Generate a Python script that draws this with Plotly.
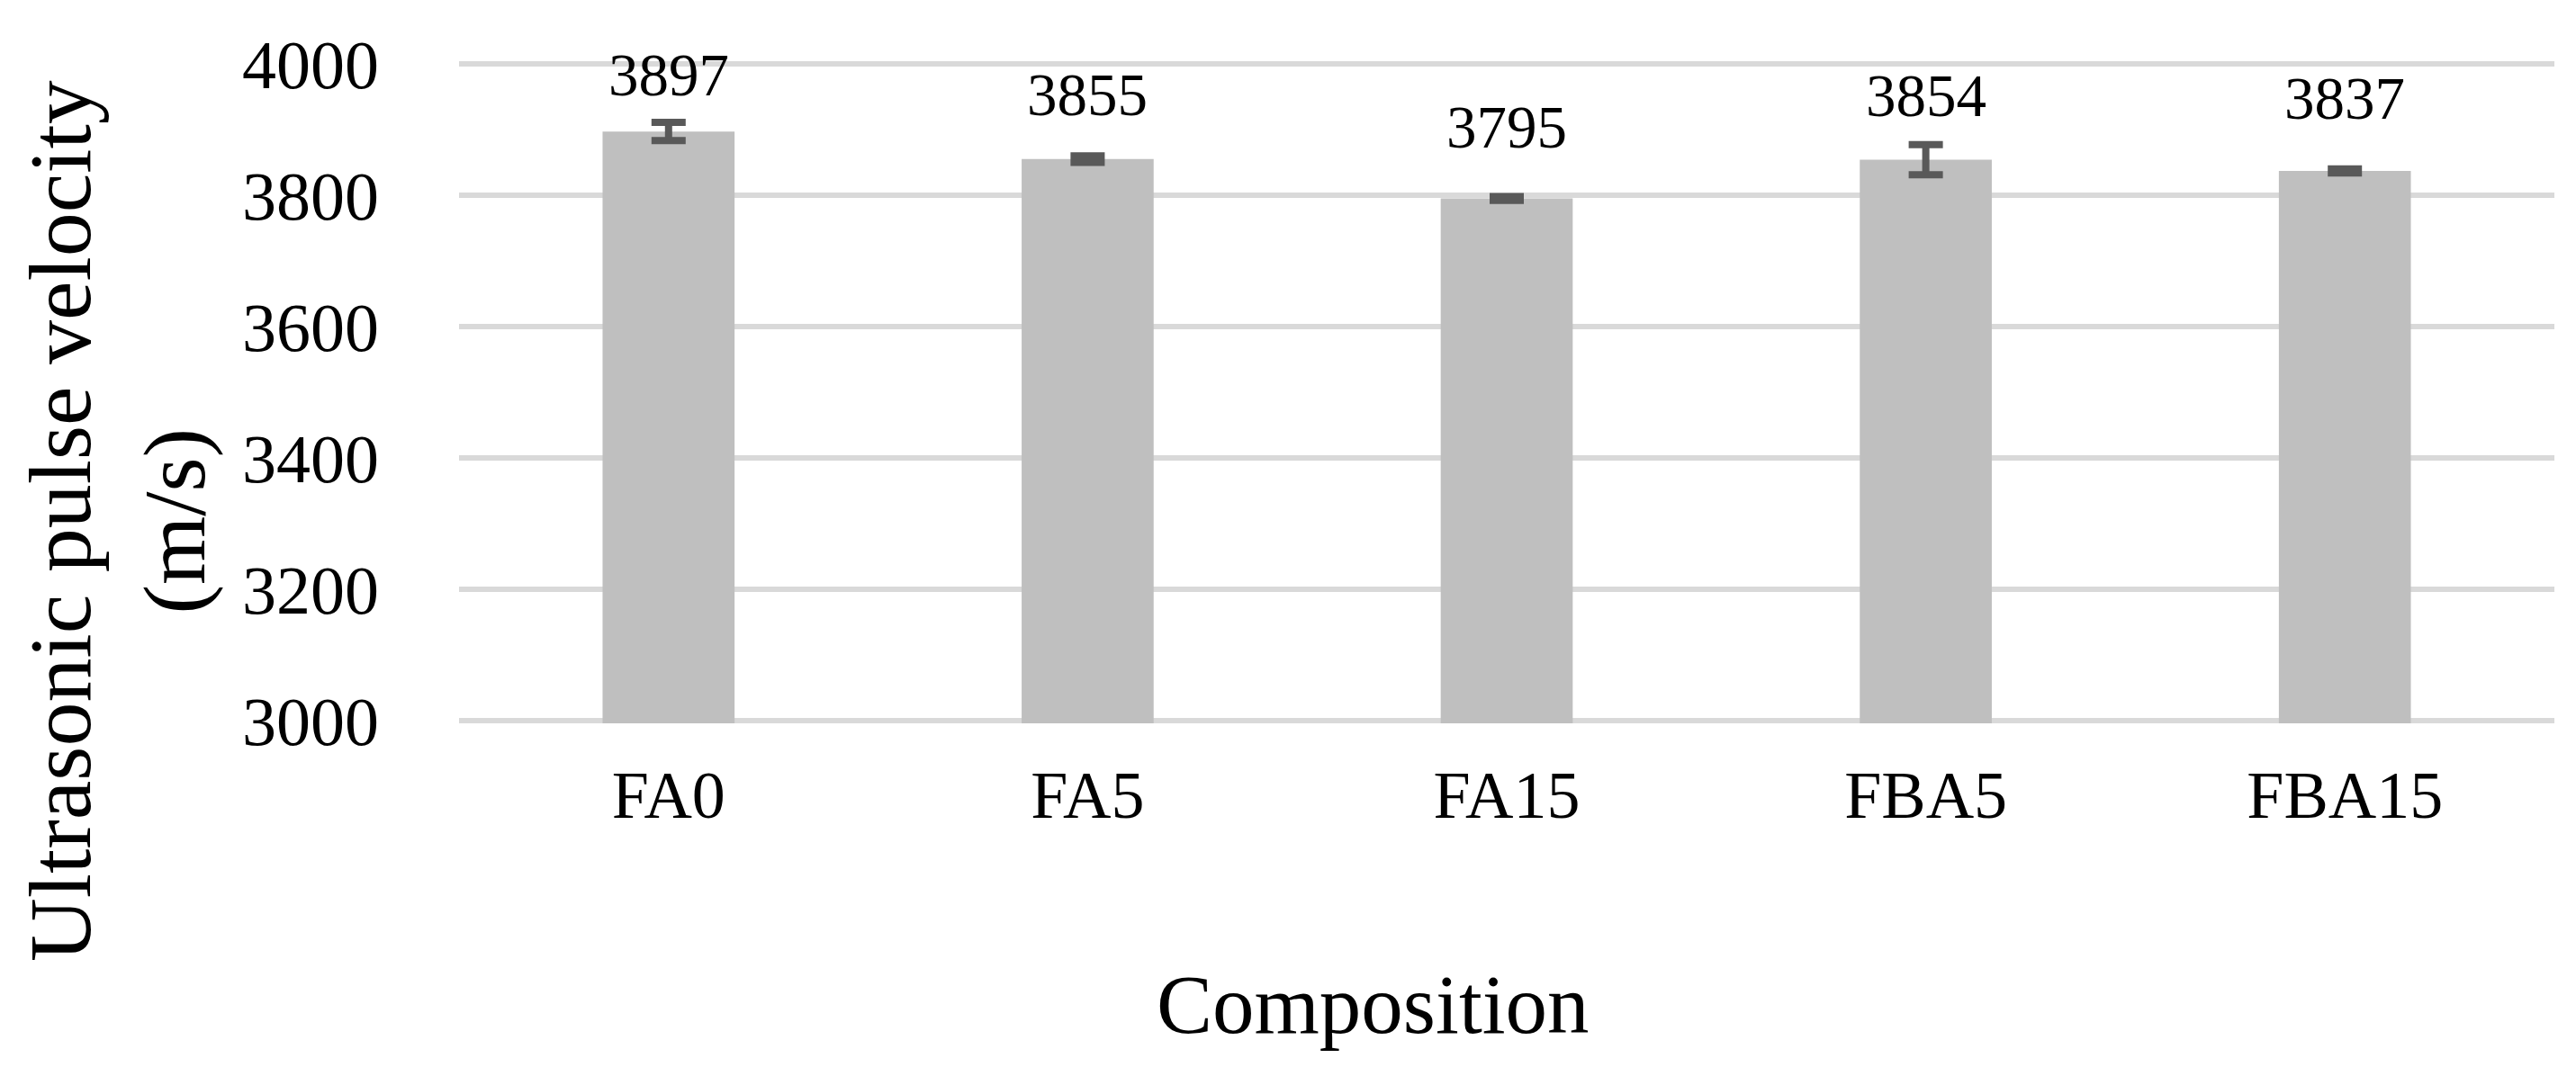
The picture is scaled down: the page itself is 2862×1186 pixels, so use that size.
import plotly.graph_objects as go

# Data
compositions = ["FA0", "FA5", "FA15", "FBA5", "FBA15"]
upv = [3897, 3855, 3795, 3854, 3837]
upv_err = [14, 5, 3, 23, 3]
# where Excel put each value label (centre, m/s)
label_y = [3984, 3953, 3904, 3952, 3948]

y_ticks = [3000, 3200, 3400, 3600, 3800, 4000]

FONT = "Liberation Serif"

fig = go.Figure()

fig.add_trace(
    go.Bar(
        x=compositions,
        y=upv,
        marker_color="#bfbfbf",
        marker_line_width=0,
        error_y=dict(type="data", array=upv_err, visible=True,
                     color="#595959", thickness=8, width=19),
        showlegend=False,
    )
)

# value labels above the error bars
for c, v, ly in zip(compositions, upv, label_y):
    fig.add_annotation(x=c, y=ly, text=str(v), showarrow=False,
                       xanchor="center", yanchor="middle",
                       font=dict(family=FONT, size=67, color="black"))

# axis titles as annotations so they sit where the original has them
fig.add_annotation(xref="paper", yref="paper", x=0.4364, y=-0.425,
                   text="Composition", showarrow=False,
                   xanchor="center", yanchor="middle",
                   font=dict(family=FONT, size=93, color="black"))
fig.add_annotation(xref="paper", yref="paper", x=-0.163, y=0.305,
                   text="Ultrasonic pulse velocity<br>(m/s)", textangle=-90,
                   showarrow=False, xanchor="center", yanchor="middle",
                   font=dict(family=FONT, size=98, color="black"))

fig.update_xaxes(
    showgrid=False,
    showline=False,
    ticks="", ticklabelstandoff=30,
    tickfont=dict(family=FONT, size=74, color="black"),
)
# range padded a hair so the 3000 and 4000 gridlines both get drawn
fig.update_yaxes(
    range=[2996, 4004],
    tickvals=y_ticks,
    showgrid=True, gridcolor="#d9d9d9", gridwidth=6,
    zeroline=False, showline=False,
    ticks="", ticklabelstandoff=88,
    tickfont=dict(family=FONT, size=76, color="black"),
)

fig.update_layout(
    width=2862,
    height=1186,
    bargap=0.685,
    plot_bgcolor="white",
    paper_bgcolor="white",
    margin=dict(l=502, r=32, t=60, b=390),
)

fig.write_html("out.html")
